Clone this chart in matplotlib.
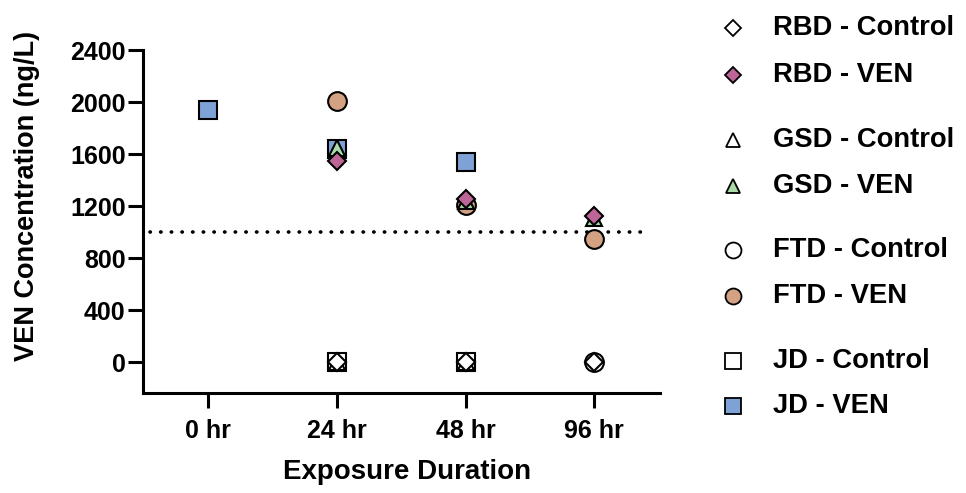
import numpy as np
import matplotlib
matplotlib.use("Agg")
import matplotlib.pyplot as plt
from matplotlib.lines import Line2D

plt.rcParams['font.family'] = ['Liberation Sans', 'DejaVu Sans']
plt.rcParams['font.weight'] = 'bold'

categories = ["0 hr", "24 hr", "48 hr", "96 hr"]
nan = np.nan
# VEN concentration (ng/L)
jd_control = [nan, 0, 0, nan]
jd_ven = [1938, 1640, 1535, nan]
ftd_control = [nan, nan, nan, 0]
ftd_ven = [nan, 2010, 1210, 948]
gsd_control = [nan, 0, 0, nan]
gsd_ven = [nan, 1645, 1240, 1110]
rbd_control = [nan, 0, 0, 0]
rbd_ven = [nan, 1545, 1252, 1123]
threshold = 1000

yticks = [0, 400, 800, 1200, 1600, 2000, 2400]

col_rbd = '#BC6596'
col_gsd = '#A9DCA9'
col_ftd = '#D2A283'
col_jd = '#7FA2D6'

fig = plt.figure(figsize=(9.66, 4.93), dpi=100)
ax = fig.add_axes([143/966, 1-393/493, (660-143)/966, (393-50)/493])

x = np.arange(len(categories))
mew = 1.5
series = [
    (jd_control, 's', 13, 'white', "JD - Control"),
    (jd_ven, 's', 13, col_jd, "JD - VEN"),
    (ftd_control, 'o', 13.5, 'white', "FTD - Control"),
    (ftd_ven, 'o', 13.5, col_ftd, "FTD - VEN"),
    (gsd_control, '^', 11.5, 'white', "GSD - Control"),
    (gsd_ven, '^', 11.5, col_gsd, "GSD - VEN"),
    (rbd_control, 'D', 9.2, 'white', "RBD - Control"),
    (rbd_ven, 'D', 9.2, col_rbd, "RBD - VEN"),
]
for i, (vals, m, ms, fc, lab) in enumerate(series):
    ax.plot(x, vals, linestyle='none', marker=m, markersize=ms,
            markerfacecolor=fc, markeredgecolor='black', markeredgewidth=mew,
            zorder=3 + i, clip_on=False, label=lab)

ax.plot([-0.45, 3.42], [threshold, threshold], color='black', lw=2.6,
        linestyle=(0, (0.1, 2.85)), dash_capstyle='round', zorder=2)

ax.set_xlim(-0.505, 3.51)
ax.set_ylim(-238, 2400)
ax.set_xticks(x)
ax.set_xticklabels(categories)
ax.set_yticks(yticks)
ax.spines['top'].set_visible(False)
ax.spines['right'].set_visible(False)
for s in ['left', 'bottom']:
    ax.spines[s].set_linewidth(2.2)
ax.tick_params(axis='both', width=2.2, length=10.5, labelsize=18)
ax.tick_params(axis='x', pad=8)
ax.tick_params(axis='y', pad=2)
for t in ax.get_xticklabels() + ax.get_yticklabels():
    t.set_fontweight('bold')

ax.set_xlabel("Exposure Duration", fontsize=20, fontweight='bold')
ax.xaxis.set_label_coords(0.51, -0.23)
ax.xaxis.label.set_va('center')
ax.set_ylabel("VEN Concentration (ng/L)", fontsize=19.5, fontweight='bold')
ax.yaxis.set_label_coords(-0.224, 0.574)
ax.yaxis.label.set_va('center')

# legend
leg_order = [6, 7, 4, 5, 2, 3, 0, 1]
leg_y = [28, 75, 140, 186, 250, 296, 361, 406]
for idx, ypx in zip(leg_order, leg_y):
    vals, m, ms, fc, lab = series[idx]
    yf = 1 - ypx / 493
    fig.add_artist(Line2D([733/966], [yf], transform=fig.transFigure,
                          marker=m, markersize=ms*0.85, markerfacecolor=fc,
                          markeredgecolor='black', markeredgewidth=1.3,
                          linestyle='none'))
    fig.text(773/966, yf, lab, fontsize=19.7, fontweight='bold',
             va='center', ha='left')

fig.savefig("out.png", dpi=100)
